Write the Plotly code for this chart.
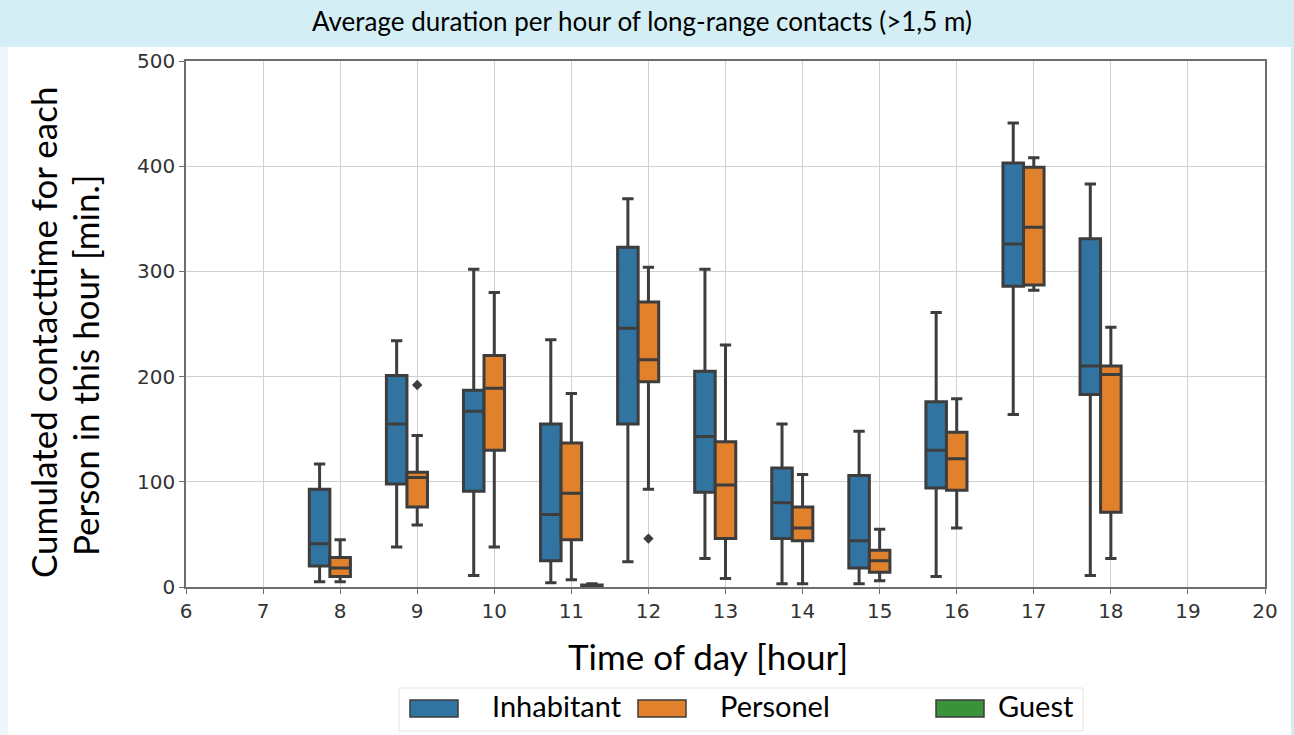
import plotly.graph_objects as go

W, H = 1294, 735
ML, MR, MT, MB = 186, 29, 61, 148
PW, PH = W - ML - MR, H - MT - MB

# ---------------- data ----------------
hours = [8, 9, 10, 11, 12, 13, 14, 15, 16, 17, 18]

inh_low = [5, 38, 11, 4, 24, 27, 3, 3, 10, 164, 11]
inh_q1 = [20, 98, 91, 25, 155, 90, 46, 18, 94, 286, 183]
inh_med = [41, 155, 167, 69, 246, 143, 80, 44, 130, 326, 210]
inh_q3 = [93, 201, 187, 155, 323, 205, 113, 106, 176, 403, 331]
inh_high = [117, 234, 302, 235, 369, 302, 155, 148, 261, 441, 383]

per_low = [5, 59, 38, 7, 93, 8, 3, 6, 56, 282, 27]
per_q1 = [10, 76, 130, 45, 195, 46, 44, 14, 92, 287, 71]
per_med = [18, 104, 189, 89, 216, 97, 56, 25, 122, 342, 202]
per_q3 = [28, 109, 220, 137, 271, 138, 76, 35, 147, 399, 210]
per_high = [45, 144, 280, 184, 304, 230, 107, 55, 179, 408, 247]

guest_hours = [11]
guest_low = [0]
guest_q1 = [0]
guest_med = [1]
guest_q3 = [2]
guest_high = [3]

outlier_hours = [9, 12]
outlier_values = [192, 46]

series_names = ["Inhabitant", "Personel", "Guest"]
series_colors = ["#3274a1", "#e1812c", "#3a923a"]
x_ticks = list(range(6, 21))
y_ticks = [0, 100, 200, 300, 400, 500]

title_text = "Average duration per hour of long-range contacts (>1,5 m)"
x_title = "Time of day [hour]"
y_title_lines = ["Cumulated contacttime for each", "Person in this hour [min.]"]

EDGE = "#3d3d3d"
LABEL_FONT = "Lato"


def px_x(px):
    return (px - ML) / PW


def px_y(py):
    return (H - MB - py) / PH


fig = go.Figure()

box_sets = [
    (hours, inh_low, inh_q1, inh_med, inh_q3, inh_high),
    (hours, per_low, per_q1, per_med, per_q3, per_high),
    (guest_hours, guest_low, guest_q1, guest_med, guest_q3, guest_high),
]
for name, color, (xs, lo, q1, md, q3, hi) in zip(series_names, series_colors, box_sets):
    fig.add_trace(go.Box(
        name=name, x=xs, lowerfence=lo, q1=q1, median=md, q3=q3, upperfence=hi,
        fillcolor=color, line=dict(color=EDGE, width=3), whiskerwidth=0.55,
        boxpoints=False, showlegend=False, hoverinfo="skip",
    ))

fig.add_trace(go.Scatter(
    x=outlier_hours, y=outlier_values, mode="markers",
    marker=dict(symbol="diamond", size=8, color=EDGE), showlegend=False, hoverinfo="skip",
))

# ---------------- background ----------------
shapes = [
    dict(type="rect", xref="paper", yref="paper", layer="below",
         x0=px_x(8), x1=px_x(1291), y0=px_y(735), y1=px_y(47),
         fillcolor="white", line=dict(width=0)),
    dict(type="rect", xref="paper", yref="paper", layer="below",
         x0=px_x(0), x1=px_x(8), y0=px_y(735), y1=px_y(47),
         fillcolor="#eef8fb", line=dict(width=0)),
]

# ---------------- legend (manual) ----------------
shapes.append(dict(type="rect", xref="paper", yref="paper",
                   x0=px_x(399), x1=px_x(1083), y0=px_y(731), y1=px_y(688),
                   fillcolor="white", line=dict(color="#e4e4e4", width=1)))
legend_patch_x = [410, 638, 936]
legend_text_x = [490, 718, 996]
annotations = []
for name, color, pxl, txl in zip(series_names, series_colors, legend_patch_x, legend_text_x):
    shapes.append(dict(type="rect", xref="paper", yref="paper",
                       x0=px_x(pxl), x1=px_x(pxl + 48), y0=px_y(717), y1=px_y(700),
                       fillcolor=color, line=dict(color=EDGE, width=1.5)))
    annotations.append(dict(text=name, xref="paper", yref="paper",
                            x=px_x(txl), y=px_y(705), xanchor="left", yanchor="middle",
                            showarrow=False, font=dict(family=LABEL_FONT, size=29, color="black")))

annotations.append(dict(text=title_text, xref="paper", yref="paper",
                        x=px_x(642), y=px_y(21), xanchor="center", yanchor="middle",
                        showarrow=False, font=dict(family=LABEL_FONT, size=26, color="black")))
annotations.append(dict(text=x_title, xref="paper", yref="paper",
                        x=px_x(708), y=px_y(656), xanchor="center", yanchor="middle",
                        showarrow=False, font=dict(family=LABEL_FONT, size=35, color="black")))
for line, cx, cy in zip(y_title_lines, [43, 85], [333, 366]):
    annotations.append(dict(text=line, xref="paper", yref="paper", textangle=-90,
                            x=px_x(cx), y=px_y(cy), xanchor="center", yanchor="middle",
                            showarrow=False, font=dict(family=LABEL_FONT, size=35, color="black")))

axis_common = dict(
    showgrid=True, gridcolor="#d0d0d0", gridwidth=1,
    showline=True, linecolor="#6e6e6e", linewidth=1.5, mirror=True,
    ticks="outside", ticklen=5, tickcolor="#6e6e6e", tickwidth=1,
    tickfont=dict(family="DejaVu Sans", size=20, color="#333333"),
    zeroline=False,
)

fig.update_layout(
    width=W, height=H,
    margin=dict(l=ML, r=MR, t=MT, b=MB),
    paper_bgcolor="#d3eff5", plot_bgcolor="white",
    boxmode="group", boxgap=0.2, boxgroupgap=0,
    xaxis=dict(range=[6, 20], tickvals=x_ticks, ticktext=[str(t) for t in x_ticks], **axis_common),
    yaxis=dict(range=[0, 500], tickvals=y_ticks, **axis_common),
    shapes=shapes, annotations=annotations,
)

fig.write_html("out.html")
